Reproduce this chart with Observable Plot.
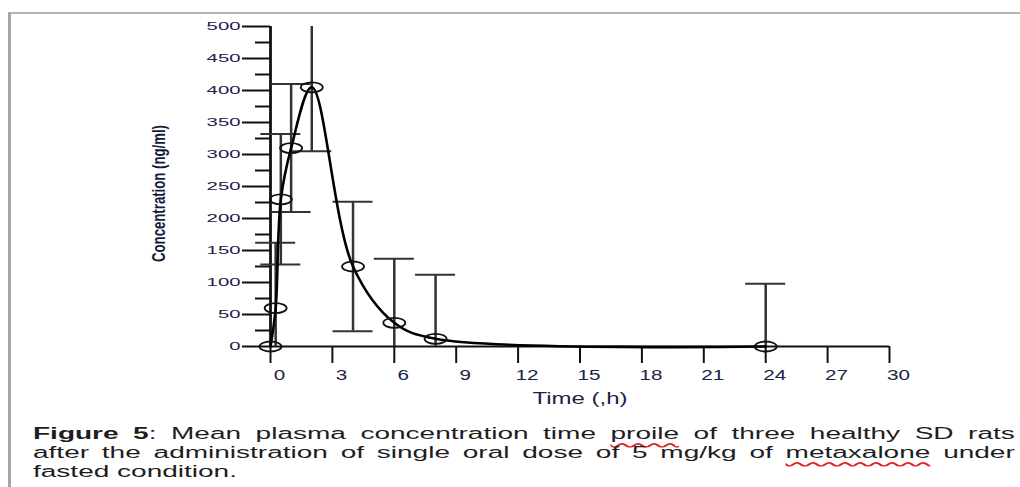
<!DOCTYPE html>
<html>
<head>
<meta charset="utf-8">
<script src="https://cdn.jsdelivr.net/npm/d3@7"></script>
<script src="https://cdn.jsdelivr.net/npm/@observablehq/plot@0.6"></script>
<style>
  html, body { margin: 0; padding: 0; background: #fff; width: 1020px; height: 487px; overflow: hidden; }
  #chart { position: absolute; left: 0; top: 0; }
  #frame { position: absolute; left: 8px; top: 12px; width: 1012px; height: 475px;
           border-top: 2px solid #b2b6b2; border-left: 3px solid #a6a6aa; box-sizing: border-box; pointer-events: none; }
  #caption { position: absolute; left: 33px; top: 424px; width: 561px; transform: scaleX(1.75); transform-origin: 0 0;
             font-family: "Liberation Sans", Arial, sans-serif; font-size: 16px; line-height: 19px; color: #1e1e1e; }
  #caption .j { text-align: justify; text-align-last: justify; }
  #caption .l { text-align: left; }
  .sp { text-decoration: underline wavy #e02020; text-decoration-skip-ink: none; text-underline-offset: 3px; }
</style>
</head>
<body>
<div id="chart"></div>
<div id="frame"></div>
<div id="caption">
  <div class="j"><b>Figure 5</b>: Mean plasma concentration time <span class="sp">proile</span> of three healthy SD rats</div>
  <div class="j">after the administration of single oral dose of 5 mg/kg of <span class="sp">metaxalone</span> under</div>
  <div class="l">fasted condition.</div>
</div>
<script>
// ---- data ----
const times = [0, 0.25, 0.5, 1, 2, 4, 6, 8, 24];          // h
const meanConc = [0, 60, 230, 310, 405, 125, 37, 12, 0];   // ng/ml
const sdConc = [0, 102, 102, 100, 100, 101, 100, 100, 98]; // ng/ml
const xTicks = [0, 3, 6, 9, 12, 15, 18, 21, 24, 27, 30];
const yTicks = [0, 50, 100, 150, 200, 250, 300, 350, 400, 450, 500];
const yMinorTicks = [25, 75, 125, 175, 225, 275, 325, 375, 425, 475];
const xTitle = "Time (,h)";
const yTitle = "Concentration (ng/ml)";
const xMax = 30, yMax = 500;

const rows = times.map((t, i) => ({
  t, mean: meanConc[i], sd: sdConc[i],
  hi: Math.min(meanConc[i] + sdConc[i], yMax),
  lo: Math.max(meanConc[i] - sdConc[i], 0)
}));
const withSd = rows.filter(d => d.sd > 0);
const upperCaps = withSd.filter(d => d.mean + d.sd <= yMax);
const lowerCaps = withSd.filter(d => d.mean - d.sd >= 0);

// open, horizontally elongated marker
const ellipse = {
  draw(ctx, size) {
    const r = Math.sqrt(size / Math.PI), rx = r * 2.2, ry = r, k = 0.5523;
    ctx.moveTo(rx, 0);
    ctx.bezierCurveTo(rx, ry * k, rx * k, ry, 0, ry);
    ctx.bezierCurveTo(-rx * k, ry, -rx, ry * k, -rx, 0);
    ctx.bezierCurveTo(-rx, -ry * k, -rx * k, -ry, 0, -ry);
    ctx.bezierCurveTo(rx * k, -ry, rx, -ry * k, rx, 0);
    ctx.closePath();
  }
};

const ink = "#111";
const labelInk = "#1c2345";

const plot = Plot.plot({
  width: 1020,
  height: 415,
  marginTop: 26,
  marginBottom: 69,
  marginLeft: 270,
  marginRight: 131,
  x: { domain: [0, xMax], axis: null },
  y: { domain: [0, yMax], axis: null },
  style: { background: "transparent", fontFamily: "'Liberation Sans', Arial, sans-serif", overflow: "visible" },
  marks: [
    // y axis ticks
    Plot.ruleY(yTicks, { y: d => d, x1: 0, x2: 0, insetLeft: -28, stroke: ink, strokeWidth: 2 }),
    Plot.ruleY(yMinorTicks, { y: d => d, x1: 0, x2: 0, insetLeft: -15, stroke: ink, strokeWidth: 2 }),
    // x axis ticks
    Plot.ruleX(xTicks, { x: d => d, y1: 0, y2: 0, insetBottom: -17, stroke: ink, strokeWidth: 2 }),
    // axis lines
    Plot.ruleY([0], { stroke: ink, strokeWidth: 2.2 }),
    Plot.ruleX([0], { stroke: ink, strokeWidth: 2.8 }),
    // error bars
    Plot.ruleX(withSd, { x: "t", y1: "lo", y2: "hi", stroke: "#333", strokeWidth: 2.5 }),
    Plot.ruleY(upperCaps, { y: d => d.mean + d.sd, x1: "t", x2: "t", insetLeft: -20, insetRight: -20, stroke: "#333", strokeWidth: 2 }),
    Plot.ruleY(lowerCaps, { y: d => d.mean - d.sd, x1: "t", x2: "t", insetLeft: -20, insetRight: -20, stroke: "#333", strokeWidth: 2 }),
    // mean curve and markers
    Plot.line(rows, { x: "t", y: "mean", curve: "catmull-rom", stroke: "#000", strokeWidth: 2.6 }),
    Plot.dot(rows, { x: "t", y: "mean", r: 5, symbol: ellipse, stroke: ink, strokeWidth: 1.8, fill: "none" }),
    // tick labels
    Plot.text(yTicks, { y: d => d, x: 0, dx: -30, textAnchor: "end", text: d => String(d), fontSize: 11, fill: labelInk, ariaLabel: () => "ytick" }),
    Plot.text(xTicks, { x: d => d, y: 0, dx: 9, dy: 29, text: d => String(d), fontSize: 14, fill: labelInk, ariaLabel: () => "xtick" }),
    // axis titles
    Plot.text([xTitle], { frameAnchor: "bottom", textAnchor: "middle", lineAnchor: "middle", dy: 52, text: d => d, fontSize: 16, fill: labelInk, ariaLabel: () => "xtitle" }),
    Plot.text([yTitle], { frameAnchor: "left", textAnchor: "middle", lineAnchor: "middle", dx: -112, dy: 7, rotate: -90, text: d => d, fontSize: 19, fontWeight: "bold", fill: "#141a3a", ariaLabel: () => "ytitle" })
  ]
});

const svg = plot.tagName && plot.tagName.toLowerCase() === "svg" ? plot : plot.querySelector("svg");
document.getElementById("chart").appendChild(plot);

function stretch(label, fn) {
  svg.querySelectorAll(`text[aria-label="${label}"]`).forEach(el => {
    el.setAttribute("textLength", fn(el.textContent));
    el.setAttribute("lengthAdjust", "spacingAndGlyphs");
  });
}
stretch("ytick", s => 11.3 * s.length);
stretch("xtick", s => 11.5 * s.length);
stretch("xtitle", () => 95);
stretch("ytitle", () => 137);
</script>
</body>
</html>
